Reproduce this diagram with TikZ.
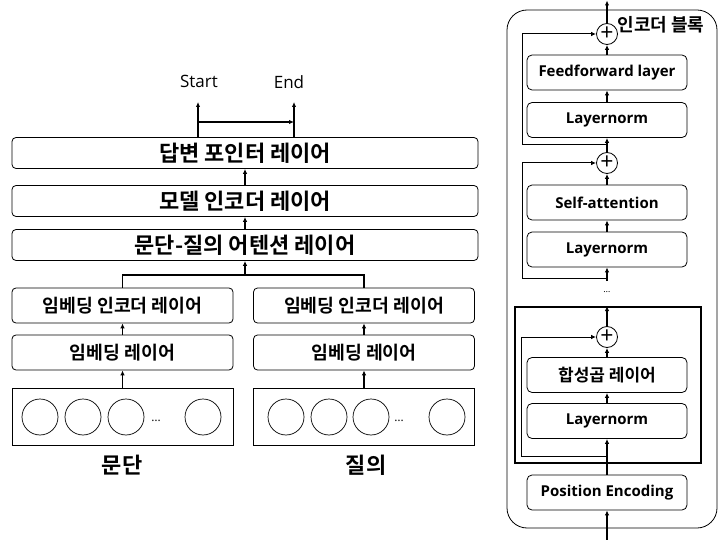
\documentclass[tikz,border=0pt]{standalone}
\usepackage{fontspec}
\setmainfont{Open Sans}
\newfontfamily\kr{Noto Sans CJK KR}[BoldFont={Noto Sans CJK KR Bold}]
\usetikzlibrary{arrows.meta}

\tikzset{
  arr/.style={-{Latex[length=5pt,width=4.5pt]}, line width=1.2pt},
  bigbox/.style={draw, rounded corners=4pt, line width=0.8pt,
    minimum width=466pt, minimum height=31pt, inner sep=0pt,
    font=\kr\bfseries\fontsize{22}{22}\selectfont},
  midbox/.style={draw, rounded corners=4pt, line width=0.8pt,
    minimum width=221pt, minimum height=35pt, inner sep=0pt,
    font=\kr\bfseries\fontsize{18.3}{18.3}\selectfont},
  tokbox/.style={draw, line width=0.8pt, minimum width=221pt,
    minimum height=57pt, inner sep=0pt},
  tok/.style={draw, circle, line width=0.7pt, minimum size=36pt, inner sep=0pt},
  rbox/.style={draw, rounded corners=5pt, line width=0.8pt,
    minimum width=160pt, minimum height=35pt, inner sep=0pt,
    font=\bfseries\fontsize{15}{15}\selectfont},
  krbox/.style={rbox, font=\kr\bfseries\fontsize{17}{17}\selectfont},
  plus/.style={draw, circle, line width=0.8pt, minimum size=21pt, inner sep=0pt,
    font=\fontsize{23}{23}\selectfont},
  lbl/.style={font=\kr\bfseries\fontsize{22}{22}\selectfont},
}

\begin{document}
\begin{tikzpicture}[x=1pt,y=-1pt]
\useasboundingbox (0,0) rectangle (723,540);

% ---------- reading-comprehension stack ----------
\node[bigbox] (ptr) at (245,153) {답변 포인터 레이어};
\node[bigbox] (mod) at (245,201) {모델 인코더 레이어};
\node[bigbox] (att) at (245,245) {문단-질의 어텐션 레이어};

\node[midbox] (ee1) at (122.5,305.5) {임베딩 인코더 레이어};
\node[midbox] (ee2) at (364,305.5) {임베딩 인코더 레이어};
\node[midbox] (em1) at (122.5,352.5) {임베딩 레이어};
\node[midbox] (em2) at (364,352.5) {임베딩 레이어};
\node[tokbox] (tk1) at (122.5,416.5) {};
\node[tokbox] (tk2) at (364,416.5) {};

% token circles
\node[tok] (a1) at (40,417) {};
\node[tok] (a2) at (83,417) {};
\node[tok] (a3) at (126,417) {};
\node (ad) at (156,421) {\fontsize{12}{12}\selectfont\dots};
\node[tok] (a4) at (203,417) {};
\node[tok] (b1) at (286,417) {};
\node[tok] (b2) at (329,417) {};
\node[tok] (b3) at (371,417) {};
\node (bd) at (399,421) {\fontsize{12}{12}\selectfont\dots};
\node[tok] (b4) at (447,417) {};

\node[lbl] (p) at (122,465) {문단};
\node[lbl] (q) at (366,465) {질의};

% outputs
\node[anchor=base, font=\fontsize{17}{17}\selectfont] (st) at (199,88) {Start};
\node[anchor=base, font=\fontsize{17}{17}\selectfont] (en) at (289,89) {End};
\coordinate (sa) at (198,102);
\coordinate (ea) at (294,102);
\coordinate (h1) at (198,122);
\coordinate (h2) at (294,122);
\draw[arr] (ptr.north -| sa) -- (sa);
\draw[arr] (ptr.north -| ea) -- (ea);
\draw[arr] (h1) -- (h2);

% vertical flow
\draw[arr] (mod.north) -- (ptr.south);
\draw[arr] (att.north) -- (mod.south);
\coordinate (j) at (245,275);
\draw[line width=1.6pt] (ee1.north) |- (j) -| (ee2.north);
\draw[arr] (j) -- (att.south);
\draw[arr] (em1.north) -- (ee1.south);
\draw[arr] (em2.north) -- (ee2.south);
\draw[arr] (tk1.north) -- (em1.south);
\draw[arr] (tk2.north) -- (em2.south);

% ---------- encoder block ----------
\draw[line width=0.8pt, rounded corners=20pt] (507,10) rectangle (717,528);
\node[font=\kr\bfseries\fontsize{18}{18}\selectfont] (blab) at (661,25) {인코더 블록};

\node[plus] (p1) at (607,34) {+};
\node[rbox] (ff) at (607,72.5) {Feedforward layer};
\node[rbox] (ln1) at (607,120) {Layernorm};
\node[plus] (p2) at (607,163) {+};
\node[rbox] (sa1) at (607,202.5) {Self-attention};
\node[rbox] (ln2) at (607,249.5) {Layernorm};
\node (dots) at (607,292) {\fontsize{9}{9}\selectfont\dots};

\node[draw, line width=1.8pt, minimum width=186pt, minimum height=156pt,
      inner sep=0pt] (blk) at (608,385) {};
\node[plus] (p3) at (607,337) {+};
\node[krbox] (cv) at (607,375) {합성곱 레이어};
\node[rbox] (ln3) at (607,421) {Layernorm};
\node[rbox] (pe) at (607,492.5) {Position Encoding};

\coordinate (top) at (607,0.5);
\coordinate (bot) at (607,540);
\draw[arr] (p1.north) -- (top);
\draw[arr] (ff.north) -- (p1.south);
\draw[arr] (ln1.north) -- (ff.south);
\draw[arr] (p2.north) -- (ln1.south);
\draw[arr] (sa1.north) -- (p2.south);
\draw[arr] (ln2.north) -- (sa1.south);
\coordinate (d1) at (607,281);
\draw[arr] (d1) -- (ln2.south);
\draw[arr] (p3.north) -- (p3.north |- blk.north);
\draw[arr] (cv.north) -- (p3.south);
\draw[arr] (ln3.north) -- (cv.south);
\draw[arr] (pe.north) -- (ln3.south);
\draw[arr] (bot) -- (pe.south);

% residual connections
\coordinate (k1) at (607,145);
\coordinate (k1a) at (522,145);
\draw[arr, line width=1pt] (k1) -- (k1a) |- (p1.west);
\coordinate (k2) at (607,278);
\coordinate (k2a) at (522,278);
\draw[arr, line width=1pt] (k2) -- (k2a) |- (p2.west);
\coordinate (k3) at (607,456);
\coordinate (k3a) at (521,456);
\draw[arr, line width=1pt] (k3) -- (k3a) |- (p3.west);
\end{tikzpicture}
\end{document}
